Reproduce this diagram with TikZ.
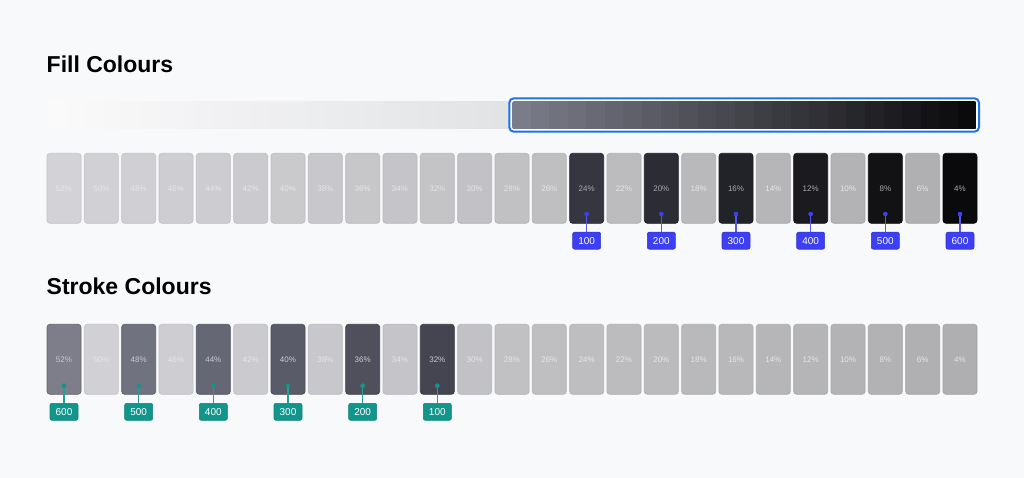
\documentclass[tikz,border=0pt]{standalone}
\usepackage{fontspec}
\setmainfont{Liberation Sans}
\definecolor{bgc}{HTML}{F8F9FB}
\definecolor{gl0}{HTML}{FAFAFB}
\definecolor{gl1}{HTML}{E2E3E5}
\definecolor{gd0}{HTML}{7B7C89}
\definecolor{gd1}{HTML}{0A0A0C}
\definecolor{selblue}{HTML}{1A73E8}
\definecolor{lt0}{HTML}{D3D3D7}
\definecolor{lt1}{HTML}{AFAFB1}
\definecolor{fd14}{HTML}{353640}
\definecolor{fd16}{HTML}{2B2C34}
\definecolor{fd18}{HTML}{222229}
\definecolor{fd20}{HTML}{1A1A1F}
\definecolor{fd22}{HTML}{121215}
\definecolor{fd24}{HTML}{0A0A0C}
\definecolor{sd0}{HTML}{7D7E89}
\definecolor{sd2}{HTML}{71727F}
\definecolor{sd4}{HTML}{656774}
\definecolor{sd6}{HTML}{5A5B68}
\definecolor{sd8}{HTML}{4F505C}
\definecolor{sd10}{HTML}{444550}
\definecolor{lighttext}{HTML}{E6E6EA}
\definecolor{filltext}{HTML}{A9A9B0}
\definecolor{stroketext}{HTML}{CACAD2}
\definecolor{vio}{HTML}{3D3FF2}
\definecolor{violine}{HTML}{5557F0}
\definecolor{teal}{HTML}{12968B}
\definecolor{teal2}{HTML}{2A9D92}
\tikzset{
  title/.style={anchor=base west, inner sep=0pt, font=\bfseries\fontsize{23}{23}\selectfont, text=black},
  swatch/.style={rectangle, rounded corners=3pt, minimum width=34pt, minimum height=70pt, inner sep=0pt, line width=0.7pt, font=\fontsize{8}{8}\selectfont},
  badge/.style={rectangle, rounded corners=2pt, minimum width=28pt, minimum height=17pt, inner sep=0pt, text=white, line width=0.6pt, font=\fontsize{10}{10}\selectfont},
  fbadge/.style={badge, fill=vio, draw=vio!85!black},
  sbadge/.style={badge, fill=teal, draw=teal!85!black},
  fdot/.style={circle, fill=vio, inner sep=0pt, minimum size=4.4pt},
  sdot/.style={circle, fill=teal, inner sep=0pt, minimum size=4.4pt},
  fline/.style={draw=violine, line width=1.1pt},
  sline/.style={draw=teal2, line width=1.1pt}
}
\begin{document}
\begin{tikzpicture}[x=1pt,y=-1pt]
\fill[bgc] (0,0) rectangle (1024,478);
\useasboundingbox (0,0) rectangle (1024,478);

\node[title] (t1) at (46.5,73) {Fill Colours};
\node[title] (t2) at (46.5,294.5) {Stroke Colours};

% light gradient steps
\foreach \i in {0,...,24} {
  \pgfmathsetmacro\p{100*\i/24}
  \fill[gl1!\p!gl0] (47+18.6*\i,101) rectangle +(18.7,28.3);
}
% selected dark gradient
\draw[selblue, line width=2pt, rounded corners=4.5pt, fill=white] (509.3,98.3) rectangle (979,131.7);
\begin{scope}
\clip[rounded corners=2.5pt] (512,101) rectangle (976.5,129.3);
\foreach \i in {0,...,24} {
  \pgfmathsetmacro\p{100*\i/24}
  \fill[gd1!\p!gd0] (512+18.58*\i,101) rectangle +(18.7,28.3);
}
\end{scope}

% fill swatches
\foreach \i in {0,...,24} {
  \pgfmathtruncatemacro\pc{52-2*\i}
  \pgfmathsetmacro\p{100*\i/24}
  \pgfmathtruncatemacro\isdark{(\i>13 && mod(\i,2)==0) ? 1 : 0}
  \ifnum\isdark=1
    \node[swatch, fill=fd\i, draw=fd\i!70!black, text=filltext] (f\i) at (64+37.333*\i,188.3) {\pc\%};
  \else
    \node[swatch, fill=lt1!\p!lt0, draw=lt1!\p!lt0!93!black, text=lighttext] (f\i) at (64+37.333*\i,188.3) {\pc\%};
  \fi
}
% stroke swatches
\foreach \i in {0,...,24} {
  \pgfmathtruncatemacro\pc{52-2*\i}
  \pgfmathsetmacro\p{100*\i/24}
  \pgfmathtruncatemacro\isdark{(\i<11 && mod(\i,2)==0) ? 1 : 0}
  \ifnum\isdark=1
    \node[swatch, fill=sd\i, draw=sd\i!80!black, text=stroketext] (s\i) at (64+37.333*\i,359.3) {\pc\%};
  \else
    \node[swatch, fill=lt1!\p!lt0, draw=lt1!\p!lt0!93!black, text=lighttext] (s\i) at (64+37.333*\i,359.3) {\pc\%};
  \fi
}

% fill badges
\foreach \i/\v in {14/100,16/200,18/300,20/400,22/500,24/600} {
  \node[fdot] (fdot\i) at (64+37.333*\i,214) {};
  \node[fbadge] (fb\i) at (64+37.333*\i,240.7) {\v};
  \draw[fline] (fdot\i.center) -- (fb\i.north);
  \node[fdot] at (fdot\i) {};
}
% stroke badges
\foreach \i/\v in {0/600,2/500,4/400,6/300,8/200,10/100} {
  \node[sdot] (sdot\i) at (64+37.333*\i,385.7) {};
  \node[sbadge] (sb\i) at (64+37.333*\i,411.8) {\v};
  \draw[sline] (sdot\i.center) -- (sb\i.north);
  \node[sdot] at (sdot\i) {};
}
\end{tikzpicture}
\end{document}
